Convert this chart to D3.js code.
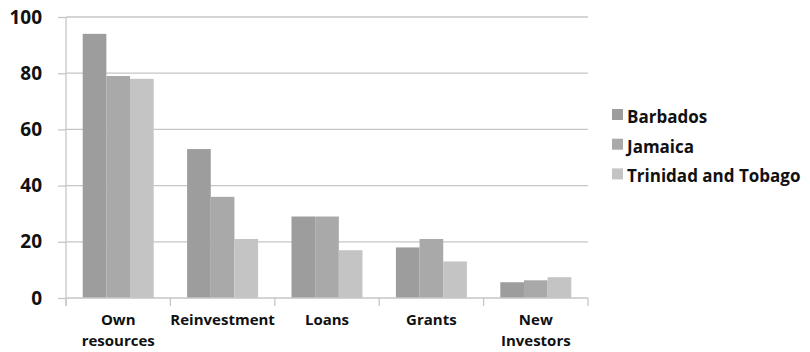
<!DOCTYPE html>
<html>
<head>
<meta charset="utf-8">
<script src="https://cdn.jsdelivr.net/npm/d3@7"></script>
<style>
  html, body { margin: 0; padding: 0; background: #fff; }
  svg text { font-family: "Open Sans", "Noto Sans", sans-serif; font-weight: 700; fill: #111; }
</style>
</head>
<body>
<svg id="chart" width="810" height="352"></svg>
<script>
// Sources of funding, by country (%)
const categories = [["Own", "resources"], ["Reinvestment"], ["Loans"], ["Grants"], ["New", "Investors"]];
const seriesNames = ["Barbados", "Jamaica", "Trinidad and Tobago"];
const barbados = [94, 53, 29, 18, 5.6];
const jamaica = [79, 36, 29, 21, 6.3];
const trinidad = [78, 21, 17, 13, 7.4];
const yTicks = [0, 20, 40, 60, 80, 100];
const colors = ["#9d9d9d", "#a9a9a9", "#c4c4c4"];

const series = [barbados, jamaica, trinidad];
const svg = d3.select("#chart");
const margin = { left: 66, right: 222, top: 17, bottom: 54 };
const W = 810, H = 352;
const plotW = W - margin.left - margin.right;
const plotH = H - margin.top - margin.bottom;

const g = svg.append("g").attr("transform", `translate(${margin.left},${margin.top})`);

const x0 = d3.scaleBand().domain(d3.range(categories.length)).range([0, plotW]).paddingInner(0).paddingOuter(0);
const x1 = d3.scaleBand().domain(d3.range(seriesNames.length))
  .range([x0.bandwidth() * 0.16, x0.bandwidth() * 0.84]).padding(0);
const y = d3.scaleLinear().domain([0, 100]).range([plotH, 0]);

// horizontal gridlines
g.append("g").selectAll("line").data(yTicks.filter(t => t > 0)).join("line")
  .attr("x1", 0).attr("x2", plotW)
  .attr("y1", d => y(d)).attr("y2", d => y(d))
  .attr("stroke", "#c6c6c6").attr("stroke-width", 1.3);

// y axis
const yAxis = g.append("g").call(d3.axisLeft(y).tickValues(yTicks).tickSize(8).tickPadding(16));
yAxis.select(".domain").attr("stroke", "#c6c6c6").attr("stroke-width", 1.3)
  .attr("d", `M0,0V${plotH + 8}`);
yAxis.selectAll(".tick line").attr("stroke", "#c6c6c6").attr("stroke-width", 1.3);
yAxis.selectAll(".tick text").attr("font-size", 19).attr("font-family", null).attr("fill", "#111");

// bars
const groups = g.append("g").selectAll("g").data(categories).join("g")
  .attr("transform", (d, i) => `translate(${x0(i)},0)`);
groups.selectAll("rect").data((d, i) => series.map((s, k) => ({ k, v: s[i] }))).join("rect")
  .attr("x", d => x1(d.k)).attr("width", x1.bandwidth())
  .attr("y", d => y(d.v)).attr("height", d => plotH - y(d.v))
  .attr("fill", d => colors[d.k]);

// x axis
const xAxisG = g.append("g").attr("transform", `translate(0,${plotH})`);
xAxisG.append("line").attr("x1", 0).attr("x2", plotW).attr("stroke", "#c6c6c6").attr("stroke-width", 1.3);
xAxisG.selectAll(".tk").data(d3.range(categories.length + 1)).join("line")
  .attr("x1", i => i * x0.step()).attr("x2", i => i * x0.step())
  .attr("y1", 0).attr("y2", 8).attr("stroke", "#c6c6c6").attr("stroke-width", 1.3);
xAxisG.selectAll("text").data(categories).join("text")
  .attr("text-anchor", "middle").attr("font-size", 15)
  .attr("transform", (d, i) => `translate(${x0(i) + x0.bandwidth() / 2},0)`)
  .selectAll("tspan").data(d => d).join("tspan")
  .attr("x", 0).attr("y", (d, j) => 27 + j * 20.6).text(d => d);

// legend
const legend = svg.append("g").attr("transform", "translate(612,109)");
const items = legend.selectAll("g").data(seriesNames).join("g")
  .attr("transform", (d, i) => `translate(0,${i * 29.7})`);
items.append("rect").attr("width", 11).attr("height", 11).attr("fill", (d, i) => colors[i]);
items.append("text").attr("x", 15).attr("y", 14).attr("font-size", 17).text(d => d);
</script>
</body>
</html>
